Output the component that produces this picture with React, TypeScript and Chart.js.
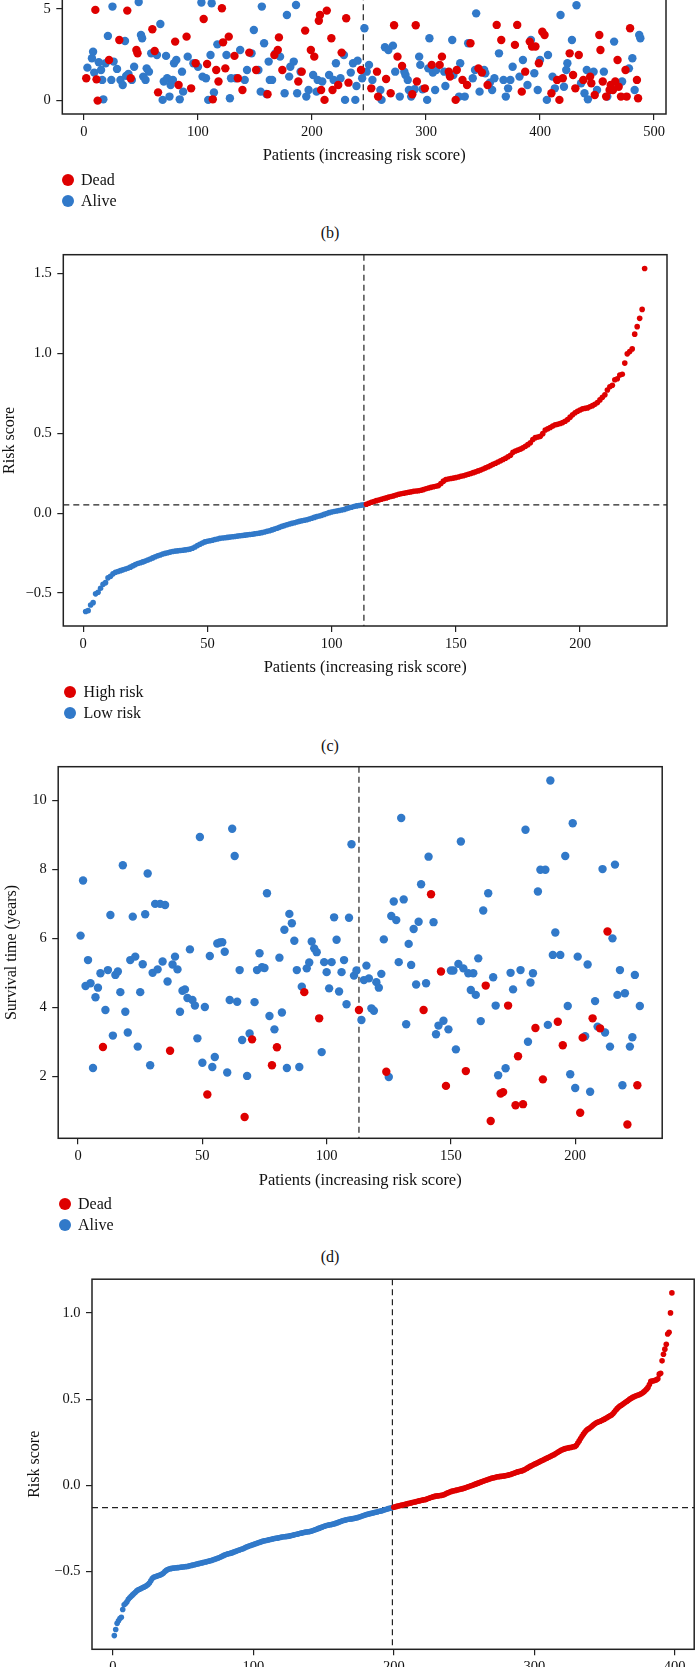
import React, { useEffect, useRef } from "react";
import { Chart, registerables } from "chart.js";
Chart.register(...registerables);

const RED = "rgb(222,0,0)";
const BLUE = "rgb(49,121,201)";
const INK = "#111";
const SERIF = '"Liberation Serif", "Times New Roman", serif';
const X_TITLE = "Patients (increasing risk score)";

// ---------- panel (b): survival status, only the visible lower band ----------
const topDead: [number, number][] = [
  [2,1.22],[10,4.95],[12,0.0],[11,1.16],[22,2.22],[31,3.31],[38,4.91],[41,1.22],[46,2.76],[47,2.58],
  [60,3.89],[62,2.71],[65,0.45],[80,3.22],[83,0.85],[90,3.49],[94,0.67],[98,2.04],[105,4.45],[108,2.0],
  [113,0.07],[116,1.67],[118,1.04],[121,5.04],[122,3.18],[124,1.76],[127,3.49],[132,2.44],[135,1.22],[139,0.58],
  [145,2.62],[151,1.67],[161,0.35],[167,2.49],[170,2.76],[171,3.45],[174,1.67],[188,1.04],[191,1.58],[194,3.82],
  [199,2.76],[202,2.4],[206,4.36],[207,4.67],[208,0.58],[211,0.04],[213,4.91],[217,3.4],[218,0.58],[223,0.85],
  [226,2.62],[230,4.49],[232,0.98],[243,1.67],
  [252,0.67],[257,1.58],[258,0.22],[265,1.18],[269,0.4],[272,4.11],[275,2.4],[279,1.89],[288,0.35],[291,4.11],
  [292,1.04],[299,0.67],[305,1.95],[312,1.95],[314,2.4],[320,1.58],[321,1.31],[326,0.04],[327,1.67],[332,1.13],
  [336,0.85],[339,3.13],[346,1.76],[349,1.53],[354,0.85],[362,4.13],[366,3.31],[378,3.04],[380,4.13],[384,0.49],
  [387,1.58],[391,3.22],[393,2.95],[396,2.95],[399,2.04],[402,3.76],[404,3.58],[410,0.4],[415,1.13],[417,0.04],
  [420,1.22],[426,2.58],[429,1.4],[431,0.67],[434,2.49],[438,1.13],[444,1.31],[445,0.95],[448,0.31],[452,3.58],
  [453,2.76],[455,1.04],[458,0.22],[461,0.58],[462,0.85],[464,0.58],[466,1.04],[468,2.22],[469,0.76],[471,0.22],
  [475,1.67],[476,0.22],[479,3.95],[485,1.13],[486,0.13]
];
const topAlive: [number, number][] = [
  [3,1.8],[7,2.31],[8,2.67],[9,1.53],[13,2.09],[15,1.67],[16,1.13],[17,0.07],[19,2.04],[21,3.53],
  [24,1.13],[25,5.13],[26,2.13],[29,1.73],[32,1.13],[34,0.85],[36,3.25],[37,1.35],[39,1.45],[42,1.13],
  [44,1.85],[48,5.38],[50,3.58],[51,3.4],[52,1.31],[54,1.13],[55,1.76],[57,1.58],[59,2.58],[64,2.49],
  [67,4.18],[69,0.04],[70,1.04],[72,2.44],[73,1.22],[75,0.22],[76,0.85],[78,1.13],[79,2.04],[81,2.22],
  [84,0.07],[86,1.58],[87,0.49],[91,2.4],[96,2.04],[100,1.85],[103,5.35],[104,1.31],[107,1.22],[109,0.04],
  [111,2.49],[112,5.31],[114,0.44],[117,3.07],[125,2.49],[128,0.13],[129,1.22],[133,1.22],[137,2.76],[141,1.13],
  [143,1.67],[147,2.58],[149,3.85],[153,1.67],[155,0.49],[156,5.13],[158,3.13],[160,0.36],[162,2.13],[163,1.13],
  [165,1.13],[168,2.58],[172,2.4],[176,0.4],[178,4.67],[180,1.31],[181,1.85],[184,2.13],[186,5.22],[187,0.4],
  [190,1.58],[195,0.22],[197,0.58],[201,1.4],[204,0.49],[205,1.13],[209,1.04],[215,1.4],[219,1.13],[221,2.04],
  [225,1.22],[228,2.49],[229,0.04],[234,1.53],[236,2.04],[238,0.04],[239,0.8],[240,2.18],[244,1.22],[246,3.95],
  [248,1.58],[250,1.95],[253,1.13],[260,0.58],[261,0.04],[264,2.91],[267,2.76],[271,3.0],[273,1.58],[277,0.22],
  [281,1.58],[282,1.4],[284,1.13],[285,0.58],[287,0.22],[290,0.62],[294,2.4],[295,1.95],[297,0.62],[301,0.04],
  [302,1.76],[303,3.4],[306,1.53],[308,0.58],[309,1.67],[316,1.58],[317,0.8],[323,3.31],[324,1.4],[329,0.22],
  [330,2.04],[334,0.22],[337,3.13],[341,1.22],[343,1.67],[344,4.76],[347,0.49],[351,1.67],[352,1.49],[356,0.98],
  [358,0.58],[360,1.22],[364,2.58],[368,1.13],[370,0.22],[372,0.67],[374,1.13],[376,1.85],[382,1.31],[385,2.22],
  [389,0.85],[392,3.31],[395,1.49],[398,0.58],[400,2.22],[406,0.04],[407,2.49],[411,1.31],[413,0.67],[418,4.67],
  [421,0.76],[423,1.67],[424,2.04],[428,3.31],[432,5.2],[436,0.95],[439,0.4],[441,1.67],[442,0.07],[447,1.58],
  [450,0.58],[456,1.58],[459,0.22],[465,3.22],[472,1.04],[478,1.76],[481,2.31],[483,0.58],[487,3.58],[488,3.4]
];
const topCutX = 245;

// ---------- panel (c): risk score, 226 patients ----------
const riskC: number[] = [
  -0.615,-0.610,-0.575,-0.560,-0.505,-0.495,-0.470,-0.445,-0.435,-0.405,
  -0.395,-0.380,-0.370,-0.365,-0.360,-0.355,-0.350,-0.345,-0.338,-0.330,
  -0.322,-0.315,-0.310,-0.305,-0.300,-0.293,-0.287,-0.280,-0.273,-0.267,
  -0.262,-0.256,-0.252,-0.248,-0.244,-0.240,-0.238,-0.236,-0.234,-0.232,
  -0.230,-0.228,-0.225,-0.220,-0.212,-0.203,-0.195,-0.187,-0.180,-0.176,
  -0.173,-0.170,-0.165,-0.162,-0.158,-0.156,-0.154,-0.152,-0.150,-0.148,
  -0.146,-0.144,-0.142,-0.140,-0.138,-0.136,-0.134,-0.132,-0.130,-0.128,
  -0.125,-0.122,-0.118,-0.114,-0.110,-0.105,-0.100,-0.095,-0.089,-0.083,
  -0.078,-0.073,-0.068,-0.064,-0.060,-0.056,-0.052,-0.048,-0.045,-0.042,
  -0.037,-0.032,-0.027,-0.022,-0.018,-0.014,-0.008,-0.002,0.003,0.007,
  0.010,0.013,0.016,0.019,0.023,0.028,0.033,0.037,0.041,0.045,
  0.048,0.050,0.052,0.055,0.062,0.068,0.073,0.078,0.082,0.087,
  0.091,0.095,0.100,0.104,0.108,0.113,0.118,0.121,0.124,0.127,
  0.130,0.133,0.136,0.138,0.140,0.143,0.147,0.152,0.157,0.161,
  0.165,0.168,0.172,0.185,0.200,0.210,0.213,0.216,0.219,0.222,
  0.226,0.230,0.234,0.238,0.243,0.248,0.253,0.258,0.264,0.270,
  0.276,0.283,0.290,0.297,0.305,0.312,0.320,0.327,0.335,0.343,
  0.352,0.362,0.380,0.388,0.394,0.400,0.408,0.418,0.428,0.440,
  0.460,0.472,0.476,0.480,0.497,0.520,0.528,0.535,0.545,0.553,
  0.555,0.560,0.566,0.574,0.585,0.600,0.615,0.628,0.637,0.645,
  0.652,0.655,0.658,0.665,0.672,0.680,0.692,0.708,0.725,0.740,
  0.770,0.790,0.800,0.834,0.840,0.864,0.868,0.938,0.996,1.010,
  1.027,1.119,1.166,1.218,1.274,1.530
];
const lowCountC = 113;
const cutC = { x: 113, y: 0.052 };

// ---------- panel (d): survival time, 226 patients ----------
const survivalD: number[] = [
  6.08,7.68,4.62,5.37,4.70,2.24,4.29,4.57,4.99,2.85,
  3.92,5.08,6.68,3.18,4.94,5.04,4.44,8.12,3.87,3.27,
  5.37,6.63,5.47,2.86,4.44,5.25,6.70,7.88,2.32,5.00,
  7.00,5.10,7.00,5.33,6.97,4.75,2.74,5.24,5.47,5.10,
  3.87,4.48,4.52,4.27,5.68,4.21,4.05,3.10,8.94,2.39,
  4.01,1.47,5.49,2.27,2.56,5.85,5.88,5.89,5.61,2.11,
  4.21,9.18,8.39,4.16,5.08,3.05,0.82,2.01,3.24,3.07,
  4.15,5.08,5.57,5.16,5.14,7.31,3.75,2.32,3.36,2.84,
  5.44,3.85,6.25,2.24,6.71,6.44,5.93,5.08,2.27,4.60,
  4.44,5.13,5.30,5.91,5.71,5.60,3.68,2.70,5.31,5.02,
  4.55,5.31,6.61,5.96,4.46,5.02,5.37,4.09,6.60,8.73,
  4.92,5.07,3.92,3.63,4.79,5.21,4.84,3.97,3.90,4.73,
  4.57,4.97,5.97,2.13,1.98,6.65,7.07,6.53,5.31,9.49,
  7.13,3.51,5.84,5.23,6.27,4.66,6.48,7.57,3.92,4.70,
  8.37,7.28,6.47,3.22,3.47,5.04,3.61,1.72,3.36,5.07,
  5.07,2.78,5.26,8.81,5.13,2.15,4.99,4.50,4.99,4.36,
  5.42,3.60,6.81,4.63,7.31,0.70,4.87,4.05,2.03,1.50,
  1.54,2.23,4.05,5.00,4.52,1.16,2.58,5.08,1.19,9.15,
  3.00,4.72,4.99,3.40,7.36,7.99,1.91,7.99,3.49,10.58,
  5.52,6.17,3.58,5.52,2.90,8.39,4.04,2.06,9.34,1.66,
  5.47,0.94,3.12,3.16,5.24,1.55,3.68,4.18,3.44,3.39,
  8.01,3.27,6.20,2.86,6.00,8.14,4.36,5.08,1.74,4.41,
  0.60,2.86,3.13,4.94,1.74,4.04
];
const statusD: string[] = (
  "AAAAAAAAAD" + "AAAAAAAAAA" + "AAAAAAAAAA" + "AAAAAADAAA" + "AAAAAAAAAA" +
  "ADAAAAAAAA" + "AAAAAADAAD" + "AAAAAAADAD" + "AAAAAAAAAA" + "DAAAAADAAA" +
  "AAAAAAAAAA" + "AADAAAAAAA" + "AAADAAAAAA" + "AAAAAAAADA" + "ADAAADADAA" +
  "AAAAADAAAA" + "AAADADAAAD" + "DADAADDADA" + "AAADAADAAA" + "AADADAAAAA" +
  "ADDAAADAAD" + "AADAAAAAAA" + "DAAADA"
).split("");
const cutD = 113;

// ---------- panel (e): risk score, 398 patients ----------
const riskE: number[] = [
  -0.871,-0.836,-0.800,-0.785,-0.772,-0.765,-0.720,-0.692,-0.685,-0.675,
  -0.660,-0.652,-0.643,-0.635,-0.627,-0.620,-0.612,-0.606,-0.602,-0.598,
  -0.594,-0.590,-0.586,-0.581,-0.575,-0.566,-0.553,-0.540,-0.533,-0.530,
  -0.527,-0.524,-0.521,-0.518,-0.514,-0.508,-0.500,-0.493,-0.488,-0.485,
  -0.483,-0.481,-0.480,-0.479,-0.478,-0.477,-0.476,-0.475,-0.474,-0.473,
  -0.472,-0.471,-0.470,-0.468,-0.466,-0.464,-0.462,-0.460,-0.458,-0.456,
  -0.454,-0.452,-0.450,-0.448,-0.446,-0.444,-0.442,-0.440,-0.438,-0.436,
  -0.433,-0.430,-0.427,-0.424,-0.421,-0.418,-0.414,-0.410,-0.406,-0.402,
  -0.399,-0.397,-0.395,-0.393,-0.390,-0.387,-0.384,-0.381,-0.378,-0.375,
  -0.372,-0.369,-0.366,-0.362,-0.358,-0.355,-0.352,-0.349,-0.346,-0.343,
  -0.340,-0.337,-0.334,-0.331,-0.329,-0.326,-0.323,-0.321,-0.320,-0.318,
  -0.316,-0.314,-0.312,-0.310,-0.308,-0.307,-0.306,-0.304,-0.302,-0.300,
  -0.299,-0.298,-0.297,-0.296,-0.295,-0.293,-0.291,-0.289,-0.287,-0.285,
  -0.283,-0.281,-0.279,-0.277,-0.275,-0.273,-0.271,-0.270,-0.269,-0.268,
  -0.266,-0.263,-0.260,-0.257,-0.254,-0.251,-0.248,-0.245,-0.242,-0.239,
  -0.236,-0.233,-0.231,-0.229,-0.228,-0.226,-0.224,-0.222,-0.219,-0.216,
  -0.213,-0.210,-0.207,-0.204,-0.202,-0.200,-0.198,-0.196,-0.195,-0.194,
  -0.193,-0.191,-0.189,-0.187,-0.185,-0.182,-0.179,-0.176,-0.173,-0.170,
  -0.168,-0.166,-0.164,-0.162,-0.160,-0.158,-0.156,-0.154,-0.152,-0.150,
  -0.148,-0.146,-0.143,-0.140,-0.138,-0.135,-0.133,-0.131,-0.129,
  -0.127,-0.124,-0.122,-0.120,-0.118,-0.116,-0.114,-0.112,-0.110,-0.108,-0.106,
  -0.104,-0.102,-0.100,-0.098,-0.096,-0.094,-0.092,-0.090,-0.088,-0.086,
  -0.084,-0.083,-0.081,-0.078,-0.075,-0.072,-0.069,-0.066,-0.064,-0.062,
  -0.061,-0.060,-0.059,-0.058,-0.056,-0.053,-0.049,-0.045,-0.041,-0.038,
  -0.035,-0.033,-0.031,-0.029,-0.027,-0.025,-0.023,-0.021,-0.019,-0.017,
  -0.014,-0.011,-0.008,-0.005,-0.002,0.001,0.004,0.007,0.010,0.013,
  0.016,0.019,0.022,0.025,0.028,0.031,0.034,0.037,0.040,0.042,
  0.044,0.046,0.048,0.050,0.051,0.052,0.053,0.054,0.055,0.057,
  0.059,0.061,0.063,0.066,0.069,0.072,0.075,0.078,0.080,0.082,
  0.084,0.087,0.091,0.095,0.100,0.105,0.110,0.114,0.118,0.122,
  0.126,0.130,0.134,0.138,0.142,0.146,0.150,0.154,0.158,0.162,
  0.166,0.170,0.174,0.178,0.183,0.188,0.193,0.198,0.203,0.207,
  0.210,0.213,0.215,0.217,0.219,0.220,0.222,0.224,0.226,0.232,
  0.245,0.258,0.272,0.285,0.297,0.308,0.318,0.325,0.330,0.336,
  0.343,0.350,0.356,0.362,0.366,0.369,0.372,0.376,0.380,0.384,
  0.389,0.394,0.399,0.404,0.408,0.415,0.425,0.435,0.445,0.453,
  0.460,0.464,0.470,0.476,0.482,0.488,0.493,0.500,0.505,0.510,
  0.514,0.518,0.521,0.524,0.527,0.531,0.535,0.542,0.550,0.558,
  0.568,0.585,0.603,0.605,0.607,0.609,0.612,0.618,0.645,0.650,
  0.722,0.760,0.790,0.818,0.878,0.888,1.000,1.116
];
const lowCountE = 199;
const cutE = { x: 199, y: -0.129 };

// ---------- ticks ----------
const xTicksTop = [0, 100, 200, 300, 400, 500];
const yTicksTop = [0, 5, 10, 15];
const yLabelsTop = ["0", "5", "10", "15"];
const xTicks226 = [0, 50, 100, 150, 200];
const yTicksC = [-0.5, 0, 0.5, 1, 1.5];
const yLabelsC = ["\u22120.5", "0.0", "0.5", "1.0", "1.5"];
const yTicksD = [2, 4, 6, 8, 10];
const yLabelsD = ["2", "4", "6", "8", "10"];
const xTicksE = [0, 100, 200, 300, 400];
const yTicksE = [-0.5, 0, 0.5, 1];
const yLabelsE = ["\u22120.5", "0.0", "0.5", "1.0"];

const toPts = (vals: number[], start: number) => vals.map((v, i) => ({ x: start + i + 1, y: v }));
const pairPts = (p: [number, number][]) => p.map(([x, y]) => ({ x, y }));

type DS = { label: string; color: string; data: { x: number; y: number }[] };
type Spec = {
  cy: number; ch: number; L: number; R: number; T: number; B: number;
  xMin: number; xMax: number; yMin: number; yMax: number;
  xTicks: number[]; yTicks: number[]; yLabels: string[];
  yTitle: string; yTitlePad: number; yTitleShow: boolean; radius: number;
  vx?: number; hy?: number; datasets: DS[];
};

const rPlot = {
  id: "rPlot",
  beforeDatasetsDraw(chart: any, _a: any, opts: any) {
    const { ctx, chartArea: a, scales } = chart;
    ctx.save();
    ctx.strokeStyle = "#222";
    ctx.lineWidth = 1.2;
    ctx.setLineDash([6, 4]);
    if (opts.vx !== undefined) {
      const px = scales.x.getPixelForValue(opts.vx);
      ctx.beginPath(); ctx.moveTo(px, a.top); ctx.lineTo(px, a.bottom); ctx.stroke();
    }
    if (opts.hy !== undefined) {
      const py = scales.y.getPixelForValue(opts.hy);
      ctx.beginPath(); ctx.moveTo(a.left, py); ctx.lineTo(a.right, py); ctx.stroke();
    }
    ctx.restore();
  },
  afterDatasetsDraw(chart: any) {
    const { ctx, chartArea: a } = chart;
    ctx.save();
    ctx.strokeStyle = "#222";
    ctx.lineWidth = 1.5;
    ctx.strokeRect(a.left, a.top, a.right - a.left, a.bottom - a.top);
    ctx.restore();
  },
};

function buildConfig(s: Spec): any {
  const X_H = 52;
  const grid = { drawOnChartArea: false, drawTicks: true, tickLength: 6, color: "#222", lineWidth: 1.2 };
  return {
    type: "scatter",
    data: {
      datasets: s.datasets.map((d) => ({
        label: d.label, data: d.data,
        backgroundColor: d.color, borderColor: d.color, borderWidth: 0,
        pointRadius: s.radius, pointHoverRadius: s.radius,
      })),
    },
    plugins: [rPlot],
    options: {
      animation: false, responsive: false, devicePixelRatio: 1, events: [],
      layout: { padding: { left: 0, right: 697 - s.R, top: s.T - s.cy, bottom: s.ch - (s.B - s.cy) - X_H } },
      plugins: { legend: { display: false }, tooltip: { enabled: false }, rPlot: { vx: s.vx, hy: s.hy } },
      scales: {
        x: {
          type: "linear", min: s.xMin, max: s.xMax,
          afterBuildTicks: (sc: any) => { sc.ticks = s.xTicks.map((v) => ({ value: v })); },
          afterFit: (sc: any) => { sc.height = X_H; },
          grid, border: { display: false },
          ticks: { autoSkip: false, maxRotation: 0, padding: 3, color: INK, font: { family: SERIF, size: 14.5 },
            callback: (v: number) => String(v) },
          title: { display: true, text: X_TITLE, color: INK, font: { family: SERIF, size: 16.5 }, padding: { top: 0, bottom: 0 } },
        },
        y: {
          type: "linear", min: s.yMin, max: s.yMax,
          afterBuildTicks: (sc: any) => { sc.ticks = s.yTicks.map((v) => ({ value: v })); },
          afterFit: (sc: any) => { sc.width = s.L; },
          grid, border: { display: false },
          ticks: { autoSkip: false, padding: 5.5, color: INK, font: { family: SERIF, size: 14.5 },
            callback: (_v: number, i: number) => s.yLabels[i] },
          title: { display: s.yTitleShow, text: s.yTitle, color: INK, font: { family: SERIF, size: 16 }, padding: { top: s.yTitlePad, bottom: 0 } },
        },
      },
    },
  };
}

function RChart({ spec }: { spec: Spec }) {
  const ref = useRef<HTMLCanvasElement>(null);
  useEffect(() => {
    const chart = new Chart(ref.current as HTMLCanvasElement, buildConfig(spec));
    return () => chart.destroy();
  }, [spec]);
  return (
    <canvas ref={ref} width={697} height={spec.ch}
      style={{ position: "absolute", left: 0, top: spec.cy, width: 697, height: spec.ch }} />
  );
}

function Legend({ items, cx, y0, dy, tx }: { items: { label: string; color: string }[]; cx: number; y0: number; dy: number; tx: number }) {
  return (
    <>
      {items.map((it, i) => (
        <React.Fragment key={it.label}>
          <div style={{ position: "absolute", left: cx - 6, top: y0 + i * dy - 6, width: 12, height: 12, borderRadius: "50%", background: it.color }} />
          <div style={{ position: "absolute", left: tx, top: y0 + i * dy, transform: "translateY(-50%)", fontFamily: SERIF, fontSize: 16, lineHeight: 1, color: INK, whiteSpace: "nowrap" }}>{it.label}</div>
        </React.Fragment>
      ))}
    </>
  );
}

function Caption({ text, x, y }: { text: string; x: number; y: number }) {
  return (
    <div style={{ position: "absolute", left: x, top: y, transform: "translate(-50%,-50%)", fontFamily: SERIF, fontSize: 16, lineHeight: 1, color: INK, whiteSpace: "nowrap" }}>{text}</div>
  );
}

const specTop: Spec = {
  cy: -260, ch: 434, L: 62.3, R: 666, T: -246, B: 114,
  xMin: -19, xMax: 510.5, yMin: -0.73, yMax: 18.9,
  xTicks: xTicksTop, yTicks: yTicksTop, yLabels: yLabelsTop,
  yTitle: "Survival time (years)", yTitlePad: 2.4, yTitleShow: false, radius: 4.2, vx: topCutX,
  datasets: [
    { label: "Dead", color: RED, data: pairPts(topDead) },
    { label: "Alive", color: BLUE, data: pairPts(topAlive) },
  ],
};
const specC: Spec = {
  cy: 240, ch: 446, L: 63.3, R: 667, T: 254.7, B: 626,
  xMin: -8, xMax: 235, yMin: -0.706, yMax: 1.616,
  xTicks: xTicks226, yTicks: yTicksC, yLabels: yLabelsC,
  yTitle: "Risk score", yTitlePad: 0, yTitleShow: true, radius: 2.8, vx: cutC.x, hy: cutC.y,
  datasets: [
    { label: "High risk", color: RED, data: toPts(riskC.slice(lowCountC), lowCountC) },
    { label: "Low risk", color: BLUE, data: toPts(riskC.slice(0, lowCountC), 0) },
  ],
};
const specD: Spec = {
  cy: 752, ch: 447, L: 58.2, R: 662.2, T: 766.7, B: 1138.3,
  xMin: -8, xMax: 235, yMin: 0.2, yMax: 10.98,
  xTicks: xTicks226, yTicks: yTicksD, yLabels: yLabelsD,
  yTitle: "Survival time (years)", yTitlePad: 2.4, yTitleShow: true, radius: 4.2, vx: cutD,
  datasets: [
    { label: "Dead", color: RED, data: survivalD.map((v, i) => ({ x: i + 1, y: v })).filter((_, i) => statusD[i] === "D") },
    { label: "Alive", color: BLUE, data: survivalD.map((v, i) => ({ x: i + 1, y: v })).filter((_, i) => statusD[i] === "A") },
  ],
};
const specE: Spec = {
  cy: 1265, ch: 462, L: 92, R: 694.7, T: 1279, B: 1649.3,
  xMin: -14.88, xMax: 413.88, yMin: -0.9505, yMax: 1.1955,
  xTicks: xTicksE, yTicks: yTicksE, yLabels: yLabelsE,
  yTitle: "Risk score", yTitlePad: 25.1, yTitleShow: true, radius: 2.8, vx: cutE.x, hy: cutE.y,
  datasets: [
    { label: "High risk", color: RED, data: toPts(riskE.slice(lowCountE), lowCountE) },
    { label: "Low risk", color: BLUE, data: toPts(riskE.slice(0, lowCountE), 0) },
  ],
};

export default function App() {
  return (
    <div style={{ position: "absolute", left: 0, top: 0, width: 697, height: 1667, overflow: "hidden", background: "#fff" }}>
      <RChart spec={specTop} />
      <Legend items={[{ label: "Dead", color: RED }, { label: "Alive", color: BLUE }]} cx={67.5} y0={180} dy={21} tx={81} />
      <Caption text="(b)" x={330} y={233} />
      <RChart spec={specC} />
      <Legend items={[{ label: "High risk", color: RED }, { label: "Low risk", color: BLUE }]} cx={69.8} y0={691.7} dy={21.6} tx={83.6} />
      <Caption text="(c)" x={330} y={746} />
      <RChart spec={specD} />
      <Legend items={[{ label: "Dead", color: RED }, { label: "Alive", color: BLUE }]} cx={65} y0={1204} dy={21} tx={78} />
      <Caption text="(d)" x={330} y={1257} />
      <RChart spec={specE} />
    </div>
  );
}
